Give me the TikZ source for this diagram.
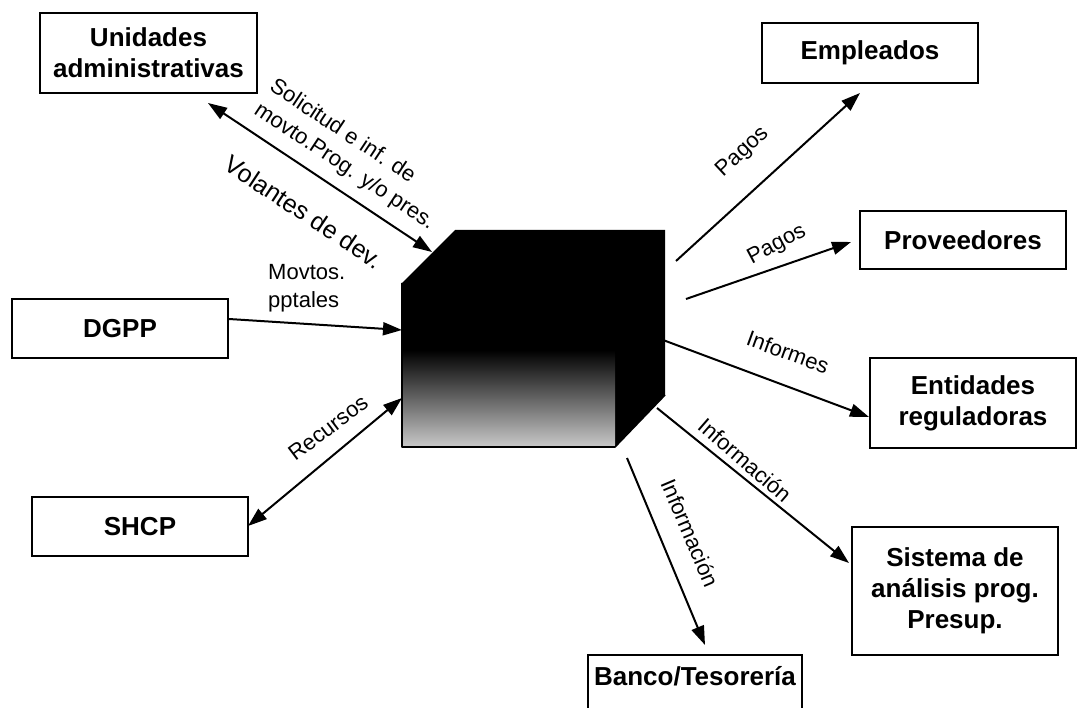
\documentclass[tikz,border=0pt]{standalone}
\usepackage{fontspec}
\setmainfont{Liberation Sans}
\usetikzlibrary{arrows.meta}
\begin{document}
\begin{tikzpicture}[x=1pt,y=-1pt,
  entity/.style={draw=black, line width=1.6pt, fill=white, inner sep=0pt,
    font=\bfseries\fontsize{26}{31}\selectfont},
  multi/.style={align=center},
  flow/.style={line width=2pt, -{Triangle[length=19pt,width=13pt]}},
  biflow/.style={line width=2pt,
    {Triangle[length=19pt,width=13pt]}-{Triangle[length=19pt,width=13pt]}},
  lbl/.style={font=\fontsize{22}{28}\selectfont, inner sep=0pt},
]
\useasboundingbox (0,0) rectangle (1077,708);
\clip (0,0) rectangle (1077,708);

% central process block (cube)
\fill[black] (402,283) -- (455,230) -- (665,230) -- (665,395) -- (615,447)
  -- (402,447) -- cycle;
\shade[top color=black, bottom color=black!22] (402,350) rectangle (615,446);
\draw[line width=1.6pt, line join=round] (402,283) -- (402,447) -- (615,447) -- (665,395);

% external entities
\node[entity, multi, minimum width=217, minimum height=80] (unid) at (148.5,53)
  {Unidades\\administrativas};
\node[entity, minimum width=216, minimum height=60] (empl) at (870,53) {Empleados};
\node[entity, minimum width=206, minimum height=58] (prov) at (963,240) {Proveedores};
\node[entity, multi, minimum width=206, minimum height=90] (enti) at (973,403)
  {Entidades\\reguladoras};
\node[entity, multi, minimum width=206, minimum height=128] (sist) at (955,591)
  {Sistema de\\análisis prog.\\Presup.};
\node[entity, minimum width=214, text height=30, text depth=40, anchor=base]
  (banco) at (695,685) {Banco/Tesorería};
\node[entity, minimum width=216, minimum height=59] (dgpp) at (120,328.5) {DGPP};
\node[entity, minimum width=216, minimum height=59] (shcp) at (140,526.5) {SHCP};

% connector ports
\coordinate (p-unid) at (208,103);   \coordinate (c-unid) at (432,252);
\coordinate (p-dgpp) at (229,319);   \coordinate (c-dgpp) at (402,330);
\coordinate (p-shcp) at (248,526);   \coordinate (c-shcp) at (402,398);
\coordinate (c-empl) at (676,261);   \coordinate (p-empl) at (860,93);
\coordinate (c-prov) at (686,299);   \coordinate (p-prov) at (851,242);
\coordinate (c-enti) at (663,340);   \coordinate (p-enti) at (869,417);
\coordinate (c-sist) at (657,408);   \coordinate (p-sist) at (849,563);
\coordinate (c-banco) at (627,458);  \coordinate (p-banco) at (705,645);

% flows
\draw[biflow] (p-unid) -- (c-unid);
\draw[flow] (p-dgpp) -- (c-dgpp);
\draw[biflow] (p-shcp) -- (c-shcp);
\draw[flow] (c-empl) -- (p-empl);
\draw[flow] (c-prov) -- (p-prov);
\draw[flow] (c-enti) -- (p-enti);
\draw[flow] (c-sist) -- (p-sist);
\draw[flow] (c-banco) -- (p-banco);

% flow labels
\node[lbl, align=left, rotate=-33.5] (l-sol) at (352,155)
  {Solicitud e inf. de\\movto.Prog. y/o pres.};
\node[lbl, font=\fontsize{25}{28}\selectfont, rotate=-33.5] (l-vol) at (304,212)
  {Volantes de dev.};
\node[lbl, align=left, anchor=west] (l-mov) at (268,288.5) {Movtos.\\pptales};
\node[lbl, rotate=37] (l-rec) at (328,428) {Recursos};
\node[lbl, rotate=43] (l-pag1) at (743,152) {Pagos};
\node[lbl, rotate=28] (l-pag2) at (777,245) {Pagos};
\node[lbl, rotate=-20] (l-inf) at (788,352) {Informes};
\node[lbl, rotate=-41] (l-info1) at (745,460) {Información};
\node[lbl, rotate=-67] (l-info2) at (690,533) {Información};
\end{tikzpicture}
\end{document}
